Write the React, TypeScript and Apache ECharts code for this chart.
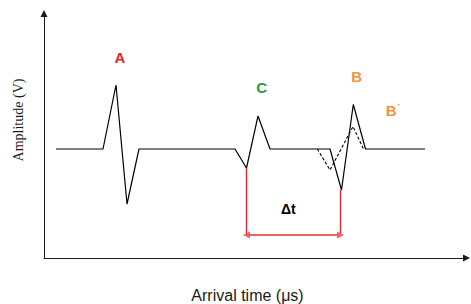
import React, { useEffect, useRef } from "react";
import * as echarts from "echarts";

// Signal (time, amplitude) — baseline amplitude = 0
const signalTime = [12, 59, 72, 83, 95, 191, 202.5, 214, 226, 286, 297.5, 309.3, 321.5, 381];
const signalAmp = [0, 0, 64, -55, 0, 0, -19, 33, 0, 0, -41, 44.5, 0, 0];

// Shifted wave B' (dashed)
const shiftedTime = [273.3, 286, 309, 319.5];
const shiftedAmp = [0, -21, 22.5, 0];

// Δt marker
const dtStart = [202.5, -19];
const dtEnd = [296.5, -41];
const dtLevel = -86;

// Annotations
const labelNames = ["A", "C", "B", "B'", "Δt"];
const labelTime = [76, 217.7, 312.7, 348.7, 244.3];
const labelAmp = [92, 62, 72.3, 39, -59.7];
const labelColors = ["#ee1c24", "#1f9a48", "#f7923a", "#f7923a", "#000000"];

const xTitle = "Arrival time (μs)";
const yTitle = "Amplitude (V)";

export default function App() {
  const ref = useRef<HTMLDivElement>(null);
  useEffect(() => {
    if (!ref.current) return;
    const chart = echarts.init(ref.current, null, { renderer: "svg" });
    const sans = "'Liberation Sans', Arial, sans-serif";
    const labelData = labelNames.map((n, i) => ({
      value: [labelTime[i], labelAmp[i]],
      name: n,
      label: {
        show: true,
        position: "inside",
        color: labelColors[i],
        textBorderWidth: 0,
        opacity: 1,
        fontFamily: sans,
        fontWeight: "bold",
        fontSize: i === 4 ? 14 : 15,
        formatter: n === "B'" ? "B{sup|'}" : n,
        rich: {
          sup: {
            color: labelColors[i],
            textBorderWidth: 0,
            fontFamily: sans,
            fontSize: 8,
            verticalAlign: "top",
            padding: [0, 0, 8, 1],
          },
        },
      },
    }));
    const axisCommon = {
      type: "value",
      axisLine: {
        show: true,
        onZero: false,
        symbol: ["none", "triangle"],
        symbolSize: [7, 7],
        lineStyle: { color: "#1a1a1a", width: 1 },
      },
      axisTick: { show: false },
      axisLabel: { show: false },
      splitLine: { show: false },
    };
    chart.setOption({
      animation: false,
      backgroundColor: "#ffffff",
      grid: { left: 44, right: 4.5, top: 13.5, bottom: 46, containLabel: false },
      xAxis: { ...axisCommon, min: 0, max: 422.5 },
      yAxis: { ...axisCommon, min: -109, max: 135.5 },
      graphic: [
        {
          type: "text",
          x: 247.5,
          y: 295,
          style: {
            text: xTitle,
            font: `16px ${sans}`,
            fill: "#1a1a1a",
            align: "center",
            verticalAlign: "middle",
          },
        },
        {
          type: "text",
          x: 18,
          y: 120,
          rotation: Math.PI / 2,
          style: {
            text: yTitle,
            font: "14px 'Liberation Serif', 'Times New Roman', serif",
            fill: "#1a1a1a",
            align: "center",
            verticalAlign: "middle",
          },
        },
      ],
      series: [
        {
          type: "line",
          data: signalTime.map((t, i) => [t, signalAmp[i]]),
          symbol: "none",
          lineStyle: { color: "#000", width: 1.2 },
          z: 3,
        },
        {
          type: "line",
          data: shiftedTime.map((t, i) => [t, shiftedAmp[i]]),
          symbol: "none",
          lineStyle: { color: "#000", width: 1.1, type: [3, 2] },
          z: 2,
        },
        {
          type: "line",
          data: [],
          symbol: "none",
          markLine: {
            silent: true,
            symbol: ["none", "none"],
            label: { show: false },
            lineStyle: { color: "#ee1c24", width: 1.3, type: "solid" },
            data: [
              [{ coord: [dtStart[0], dtStart[1]] }, { coord: [dtStart[0], dtLevel] }],
              [{ coord: [dtEnd[0], dtEnd[1]] }, { coord: [dtEnd[0], dtLevel] }],
            ],
          },
        },
        {
          type: "line",
          data: [],
          symbol: "none",
          markLine: {
            silent: true,
            symbol: ["triangle", "triangle"],
            symbolSize: [7, 7],
            label: { show: false },
            lineStyle: { color: "#f06060", width: 1.8, type: "solid" },
            itemStyle: { color: "#ee1c24" },
            data: [[{ coord: [dtStart[0], dtLevel] }, { coord: [dtEnd[0], dtLevel] }]],
          },
        },
        {
          type: "scatter",
          data: labelData,
          symbolSize: 1,
          itemStyle: { color: "#ffffff", opacity: 0 },
          z: 5,
        },
      ],
    });
    return () => chart.dispose();
  }, []);
  return (
    <div
      ref={ref}
      style={{ position: "fixed", left: 0, top: 0, width: 471, height: 304 }}
    />
  );
}
